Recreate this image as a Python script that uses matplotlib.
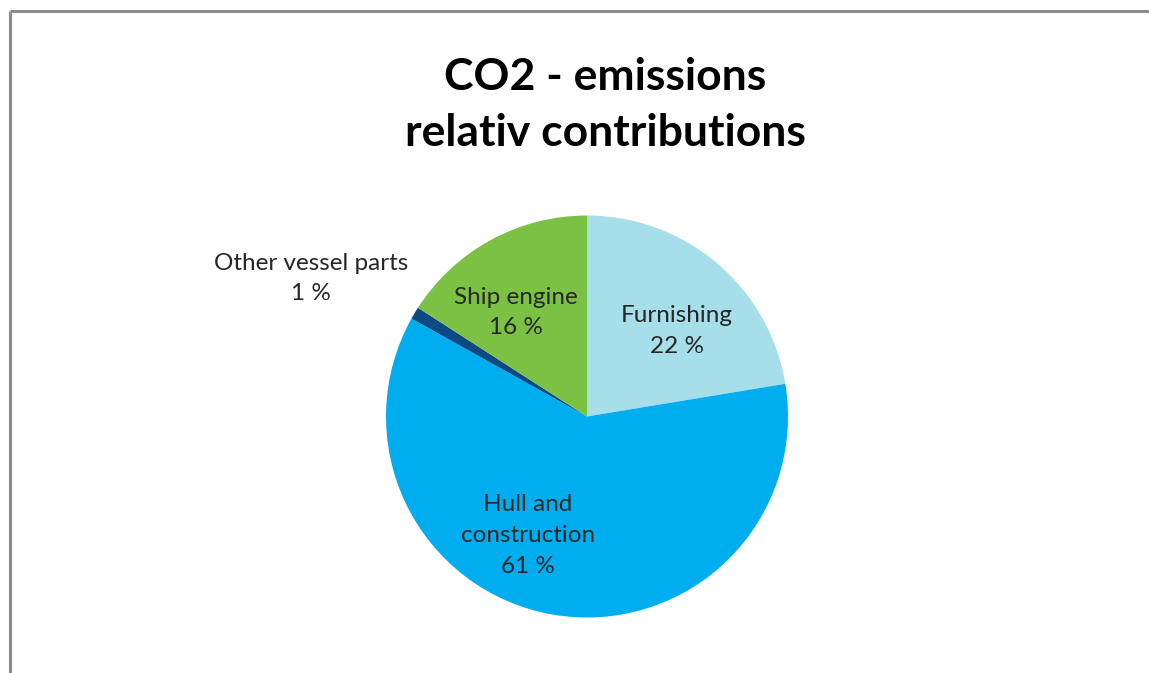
import matplotlib
matplotlib.use("Agg")
import matplotlib.pyplot as plt

categories = ["Furnishing", "Hull and\nconstruction", "Other vessel parts", "Ship engine"]
values = [22.4, 60.7, 1.0, 15.9]
pct_labels = ["22 %", "61 %", "1 %", "16 %"]
colors = ["#A6DEEA", "#00AEEF", "#0D4A83", "#7BC143"]

W, H = 1149, 673
fig = plt.figure(figsize=(W / 100, H / 100), dpi=100)
ax = fig.add_axes([0, 0, 1, 1])

cx, cy, r = 587, H - 416.5, 201
ax.pie(values, colors=colors, startangle=90, counterclock=False,
       center=(cx, cy), radius=r, frame=True,
       wedgeprops=dict(linewidth=0))
ax.set_xlim(0, W)
ax.set_ylim(0, H)
ax.axis("off")

# border
ax.plot([10, 10], [0, H - 11], color="#8C8C8C", lw=2.2, solid_capstyle="butt")
ax.plot([10, W], [H - 11, H - 11], color="#8C8C8C", lw=2.2, solid_capstyle="butt")

font = "Lato"
ax.text(605, H - 77, "CO2 - emissions", ha="center", va="center",
        fontsize=32, fontweight="bold", family=font, color="black")
ax.text(605, H - 133, "relativ contributions", ha="center", va="center",
        fontsize=32, fontweight="bold", family=font, color="black")

lab_pos = [(677, H - 331), (528, H - 535.5), (311, H - 278.5), (516, H - 312.5)]
tc = "#262626"
for cat, pct, (x, y) in zip(categories, pct_labels, lab_pos):
    ax.text(x, y, cat + "\n" + pct, ha="center", va="center",
            fontsize=17.5, family=font, color=tc, linespacing=1.57)

fig.savefig("out.png", dpi=100)
